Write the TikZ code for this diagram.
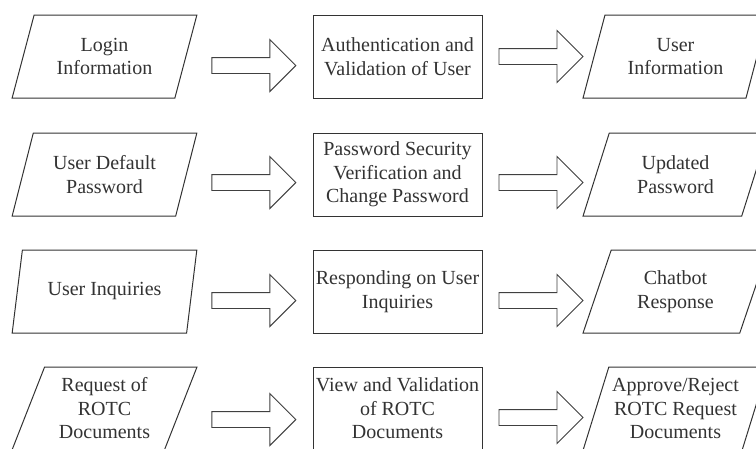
\documentclass[tikz,border=0pt]{standalone}
\usepackage{fontspec}
\setmainfont{Liberation Serif}
\usetikzlibrary{positioning,shapes.geometric,shapes.arrows}

\tikzset{
	io/.style={trapezium, trapezium left angle=68, trapezium right angle=112,
		trapezium stretches=true, draw=black!80, line width=1pt,
		minimum width=185pt, minimum height=83pt, inner sep=0pt,
		align=center, text=black!80, font=\fontsize{20pt}{23.5pt}\selectfont},
	process/.style={rectangle, draw=black!80, line width=1pt,
		minimum width=169pt, minimum height=83pt, inner sep=0pt,
		align=center, text=black!80, font=\fontsize{20pt}{23.5pt}\selectfont},
	flow/.style={single arrow, draw=black!75, line width=0.9pt,
		minimum height=84pt, minimum width=51pt, inner sep=7.5pt,
		single arrow head extend=18pt, single arrow tip angle=90,
		single arrow head indent=0pt}
}

\begin{document}
\begin{tikzpicture}[x=1pt,y=1pt]
	\useasboundingbox (0,0) rectangle (756,-448);
	\clip (0,0) rectangle (756,-448);
	\fill[white] (0,0) rectangle (756,-448);

	% login
	\node[io] (login) at (104.5,-56.5) {Login\\Information};
	\node[process] (auth) at (397.5,-56.5) {Authentication and\\Validation of User};
	\node[io] (userinfo) at (675.5,-56.5) {User\\Information};
	\node[flow, left=16pt of auth, yshift=-9pt] (toauth) {};
	\node[flow, right=16pt of auth] (fromauth) {};

	% password
	\node[io] (defpass) at (104.5,-174.5) {User Default\\Password};
	\node[process] (pwdcheck) at (397.5,-174.5) {Password Security\\Verification and\\Change Password};
	\node[io] (newpass) at (675.5,-174.5) {Updated\\Password};
	\node[flow, left=16pt of pwdcheck, yshift=-8pt] (topwd) {};
	\node[flow, right=16pt of pwdcheck, yshift=-8pt] (frompwd) {};

	% chatbot
	\node[io] (inquiry) at (104.5,-291.5) {User Inquiries};
	\node[process] (respond) at (397.5,-291.5) {Responding on User\\Inquiries};
	\node[io] (reply) at (675.5,-291.5) {Chatbot\\Response};
	\node[flow, left=16pt of respond, yshift=-9pt] (torespond) {};
	\node[flow, right=16pt of respond, yshift=-9pt] (fromrespond) {};

	% rotc documents
	\node[io] (request) at (104.5,-408.5) {Request of\\ROTC\\Documents};
	\node[process] (review) at (397.5,-408.5) {View and Validation\\of ROTC\\Documents};
	\node[io] (decision) at (675.5,-408.5) {Approve/Reject\\ROTC Request\\Documents};
	\node[flow, left=16pt of review, yshift=-11pt] (toreview) {};
	\node[flow, right=16pt of review, yshift=-9pt] (fromreview) {};
\end{tikzpicture}
\end{document}
